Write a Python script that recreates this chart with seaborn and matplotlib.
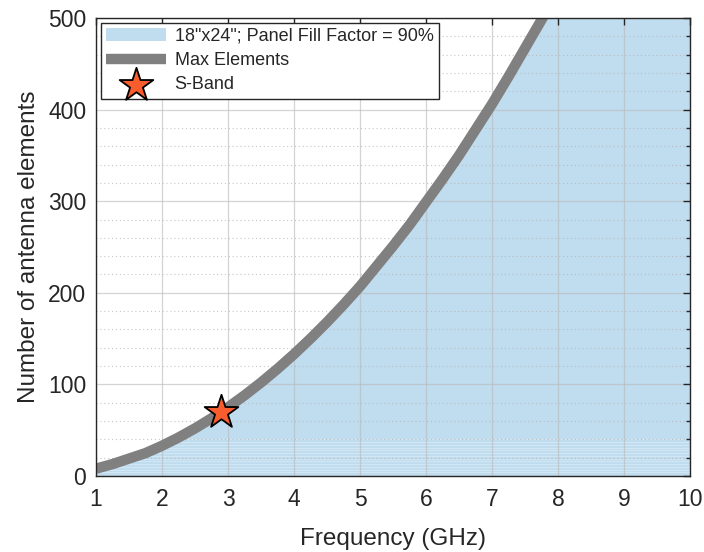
import numpy as np
import pandas as pd
import matplotlib
matplotlib.use("Agg")
import matplotlib.pyplot as plt
from matplotlib.ticker import MultipleLocator
import seaborn as sns

# Maximum element count versus frequency for an 18"x24" panel
freq_ghz = [1.0, 1.25, 1.5, 1.75, 2.0, 2.25, 2.5, 2.75, 3.0, 3.25, 3.5, 3.75, 4.0,
            4.25, 4.5, 4.75, 5.0, 5.25, 5.5, 5.75, 6.0, 6.25, 6.5, 6.75, 7.0,
            7.25, 7.5, 7.75, 8.0, 8.5, 9.0, 9.5, 10.0]
max_elements = [8, 13, 19, 25, 33, 42, 52, 63, 75, 88, 102, 117, 133,
                150, 168, 187, 207, 229, 251, 274, 299, 324, 350, 378, 406,
                436, 467, 498, 531, 600, 672, 749, 830]

# S-band operating point
sband_freq = [2.9]
sband_elements = [70]

# faint sub-array traces along the bottom of the filled region
sub_levels = [4, 7, 10, 13, 16, 19, 22, 25, 28, 31, 34, 37, 40]

fill_label = "18\"x24\"; Panel Fill Factor = 90%"

sns.set_theme(style="white")
plt.rcParams["font.family"] = ["Liberation Sans", "DejaVu Sans"]

df = pd.DataFrame({"f": freq_ghz, "n": max_elements})

fig = plt.figure(figsize=(7.04, 5.52), dpi=100)
ax = fig.add_axes([96 / 704, 76 / 552, 594 / 704, 458 / 552])

fill_color = "#c0dcef"
ax.fill_between(df["f"], 0, df["n"], color=fill_color, lw=0, zorder=1,
                label=fill_label)
for lv in sub_levels:
    ax.plot([1, 10], [lv, lv], color="white", lw=0.6, alpha=0.35, zorder=1.5)

sns.lineplot(data=df, x="f", y="n", ax=ax, color="#808080", lw=7.5,
             label="Max Elements", zorder=3, sort=False,
             solid_capstyle="butt")
sns.scatterplot(x=sband_freq, y=sband_elements, ax=ax, marker="*", s=650,
                color="#f95d2d", edgecolor="black", linewidth=1.3,
                label="S-Band", zorder=4)

ax.set_xlim(1, 10)
ax.set_ylim(0, 500)
ax.xaxis.set_major_locator(MultipleLocator(1))
ax.yaxis.set_major_locator(MultipleLocator(100))
ax.yaxis.set_minor_locator(MultipleLocator(20))

ax.grid(True, which="major", color="#b8b8b8", lw=0.9, alpha=0.6, zorder=2)
ax.grid(True, which="minor", axis="y", color="#b0b0b0", lw=0.8,
        ls=(0, (1, 2.5)), alpha=0.7, zorder=2)
ax.set_axisbelow(False)

ax.tick_params(which="both", direction="in", top=True, right=True,
               labelsize=16.5, colors="#262626", pad=7)
ax.tick_params(axis="x", pad=9)
ax.tick_params(which="major", length=5, width=1.0)
ax.tick_params(which="minor", length=3, width=1.0)
for s in ax.spines.values():
    s.set_color("#262626")
    s.set_linewidth(1.0)
    s.set_zorder(5)

ax.set_xlabel("Frequency (GHz)", fontsize=17.5, color="#262626", labelpad=12)
ax.set_ylabel("Number of antenna elements", fontsize=17.5, color="#262626",
              labelpad=6)

leg = ax.legend(loc="upper left", fontsize=13, frameon=True, fancybox=False,
                edgecolor="#262626", framealpha=1, borderaxespad=0.25,
                handlelength=3.3, handletextpad=0.5, borderpad=0.3,
                labelspacing=0.4)
leg.get_frame().set_linewidth(1.0)
leg.set_zorder(6)

fig.savefig("out.png", dpi=100)
